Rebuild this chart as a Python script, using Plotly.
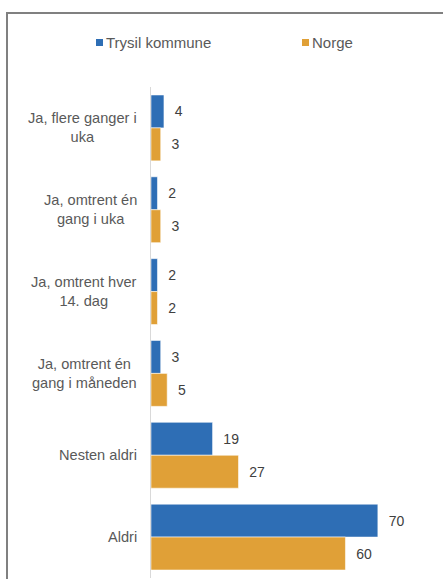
import plotly.graph_objects as go

categories = [
    "Ja, flere ganger i<br>uka",
    "Ja, omtrent én<br>gang i uka",
    "Ja, omtrent hver<br>14. dag",
    "Ja, omtrent én<br>gang i måneden",
    "Nesten aldri",
    "Aldri",
]
series_names = ["Trysil kommune", "Norge"]
trysil = [4, 2, 2, 3, 19, 70]
norge = [3, 3, 2, 5, 27, 60]

BLUE = "#2E6EB5"
ORANGE = "#E0A037"
TXT = "#595959"
FONT = "Liberation Sans, Arial, sans-serif"

W, H = 443, 579
L, R, T, B = 151, 420, 87, 578


def px_x(x):
    return (x - L) / (R - L)


def px_y(y):
    return (B - y) / (B - T)


fig = go.Figure()
for name, vals, col in [(series_names[0], trysil, BLUE), (series_names[1], norge, ORANGE)]:
    fig.add_trace(go.Bar(
        y=categories, x=vals, name=name, orientation="h",
        marker=dict(color=col, line=dict(color="rgba(255,255,255,0.55)", width=1)),
        texttemplate="\u00a0\u00a0%{x}", textposition="outside",
        constraintext="none", cliponaxis=False,
        textfont=dict(family=FONT, size=14, color="#404040"),
        showlegend=False,
    ))

annotations = []
for c in categories:
    annotations.append(dict(
        x=0, y=c, xref="x", yref="y", text=c, showarrow=False,
        xanchor="right", yanchor="middle", align="center", xshift=-12,
        font=dict(family=FONT, size=14.6, color=TXT),
    ))

# legend (manual, to match swatch/text spacing)
shapes = []
leg = [(series_names[0], BLUE, 96), (series_names[1], ORANGE, 302)]
for name, col, x0 in leg:
    shapes.append(dict(type="rect", xref="paper", yref="paper",
                       x0=px_x(x0), x1=px_x(x0 + 7), y0=px_y(46), y1=px_y(39),
                       fillcolor=col, line=dict(width=0)))
    annotations.append(dict(x=px_x(x0 + 8), y=px_y(42.5), xref="paper", yref="paper",
                            text=name, showarrow=False, xanchor="left", yanchor="middle",
                            font=dict(family=FONT, size=15, color=TXT)))

# outer frame (cropped chart border)
shapes.append(dict(type="line", xref="paper", yref="paper",
                   x0=px_x(7), x1=px_x(445), y0=px_y(13), y1=px_y(13),
                   line=dict(color="#808080", width=2)))
shapes.append(dict(type="line", xref="paper", yref="paper",
                   x0=px_x(7), x1=px_x(7), y0=px_y(12), y1=px_y(581),
                   line=dict(color="#808080", width=2)))

fig.update_layout(
    width=W, height=H,
    margin=dict(l=L, r=W - R, t=T, b=H - B, pad=0),
    barmode="group", bargap=0.195, bargroupgap=0,
    plot_bgcolor="white", paper_bgcolor="white",
    font=dict(family=FONT, size=14, color=TXT),
    xaxis=dict(range=[0, 83], visible=False, fixedrange=True),
    yaxis=dict(autorange="reversed", showticklabels=False, ticks="",
               showline=True, linecolor="#D9D9D9", linewidth=1,
               showgrid=False, zeroline=False, fixedrange=True),
    shapes=shapes, annotations=annotations,
    showlegend=False,
)

fig.write_html("out.html", config={"displayModeBar": False},
               post_script="document.body.style.margin='0';document.body.style.overflow='hidden';")
